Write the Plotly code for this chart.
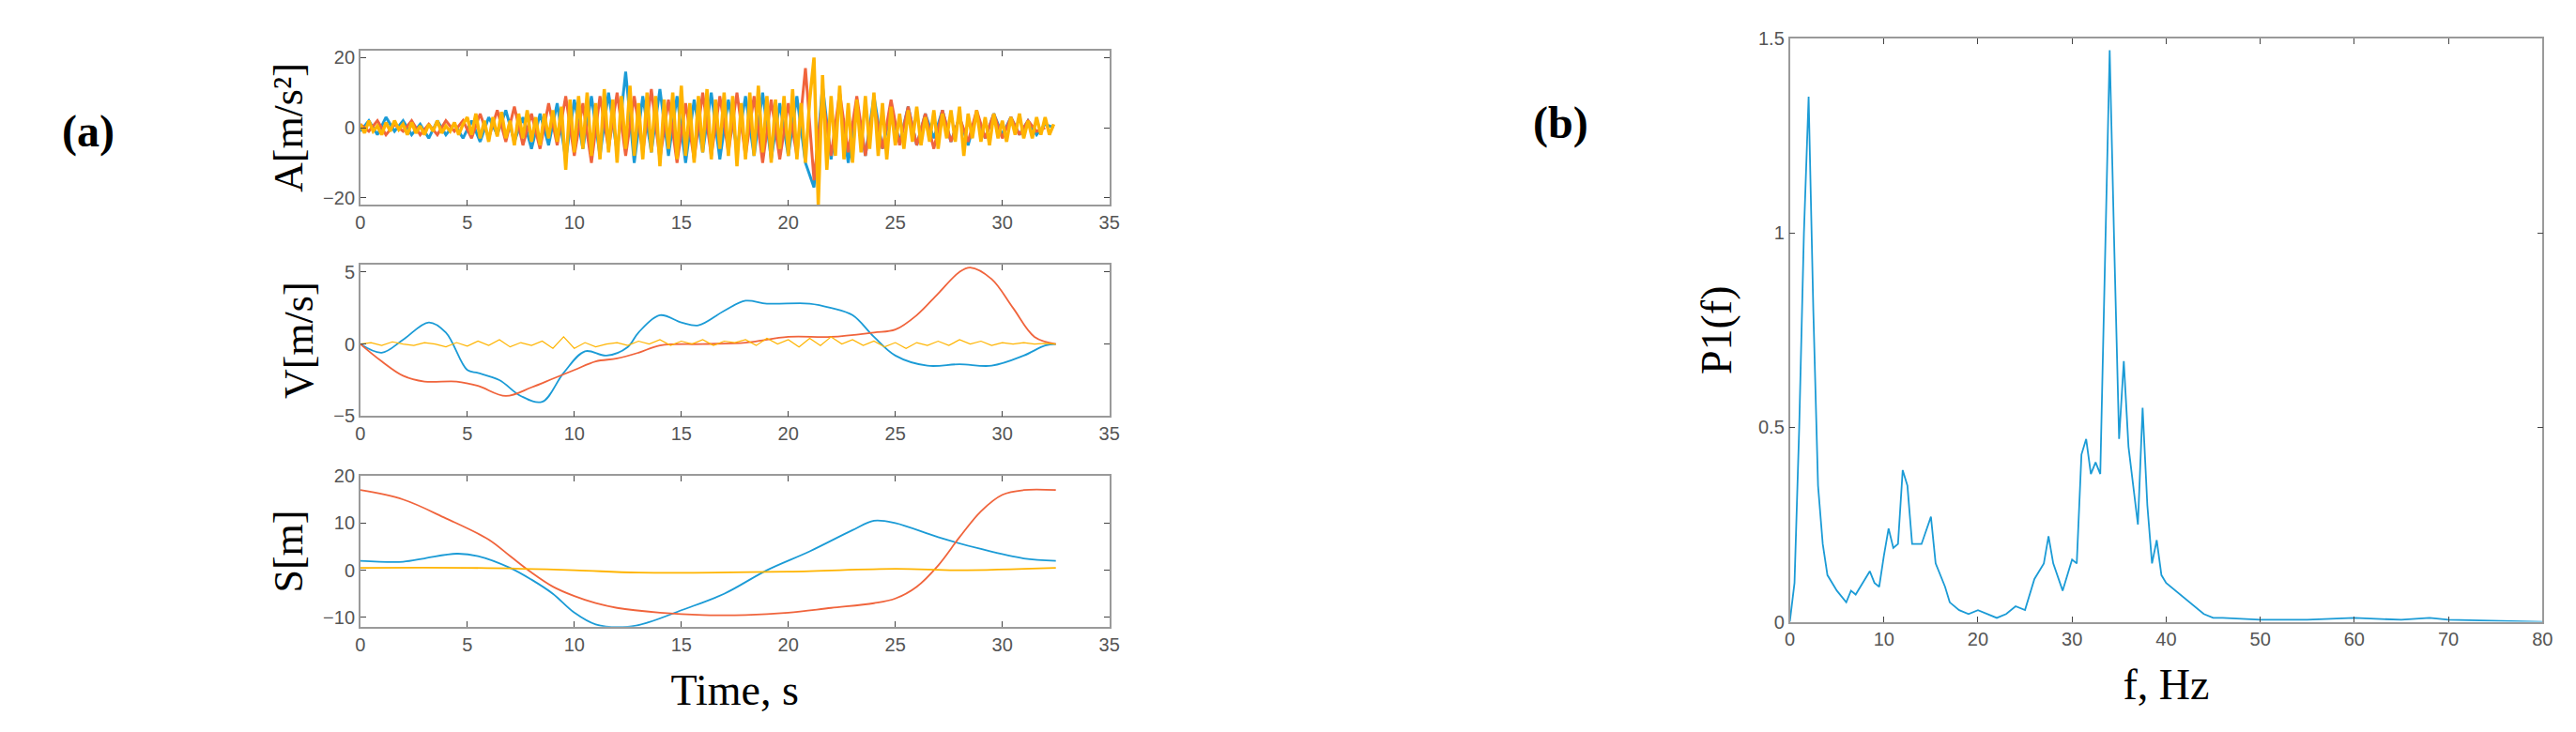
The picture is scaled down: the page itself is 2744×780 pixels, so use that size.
import numpy as np
import plotly.graph_objects as go

# ---- Data ----
dt_y = 0.2
acc_yellow = [1,-1.5,2,-1,0.5,-2,1.5,-1,2,-0.5,1,-2,1.5,-1.5,0.5,-2,1,-1,2,-1.5,0.5,-1,1.5,-2,1,
              3,-2,4,-3,2,-4,3,-2.5,4.5,-3,2,-5,4,-3,5,-4,3,-5,4,-3,5,-4,6,
              -12,8,-7,9,-6,10,-8,7,-9,11,-7,8,-10,9,-6,12,-8,7,-9,10,-7,9,-11,8,-6,10,-9,12,-8,7,-10,9,-7,11,-9,8,-6,10,-8,9,-11,7,-9,10,-8,12,-7,9,-10,8,-6,9,-8,11,-9,7,-10,8,
              20,-22,15,-12,
              9,-8,12,-9,7,-10,8,-7,9,-6,10,-8,7,-9,6,
              -5,4,-6,5,-4,6,-5,3,-4,5,-6,4,-3,5,-4,6,-8,4,-3,5,-4,3,-5,4,-3,2,-4,3,-2,4,-3,2,-3,3,-2,3,-2,1]
dt_b = 0.4
acc_blue = [-1,2,-2,3,-1,2,-2,1,-3,2,-2,1,-3,2,-4,3,-2,5,-4,3,-6,4,-5,7,
            -9,8,-6,9,-8,10,-7,16,-10,9,-7,11,-8,9,-10,8,-7,10,-9,8,-6,9,-8,10,-9,7,-8,9,-10,
            -17,12,-9,8,-10,7,-8,9,-6,5,-4,6,-5,4,-3,5,-4,3,-5,4,-3,4,-2,3,-2,2,-2,1,0]
acc_orange = [1,-1,2,-2,1,-1,2,-2,1,-2,2,-1,2,-3,4,-3,5,-4,6,-5,4,-6,7,-5,
              9,-8,7,-10,9,-6,10,-8,9,-7,11,-9,8,-10,7,-9,10,-8,9,-7,10,-8,9,-10,8,-9,7,-8,17,
              -15,9,-8,10,-7,9,-8,7,-6,8,-5,6,-5,4,-6,5,-4,3,-4,5,-3,4,-3,3,-2,2,-1,0]

v_blue_t = [0,1,2,3.2,4,5,5.5,6.5,7.5,8.5,9.5,10.5,11.5,12.5,13,14,15,15.8,17,18,19,21,22,23,24,25,26.5,28,29.5,31,32,32.5]
v_blue = [0,-0.6,0.3,1.5,0.8,-1.8,-2,-2.5,-3.6,-4,-2,-0.5,-0.8,-0.2,0.8,2,1.5,1.3,2.3,3,2.8,2.8,2.5,2,0.5,-0.8,-1.5,-1.4,-1.5,-0.8,-0.1,0]
v_orange_t = [0,1,2,3,4.5,5.5,6.8,8,9,10,11,12,13,14,16,18,20,22,24,25,26,27,28,28.5,29.5,30.5,31.5,32.5]
v_orange = [0,-1.2,-2.2,-2.6,-2.6,-2.9,-3.6,-3,-2.4,-1.8,-1.2,-1,-0.6,-0.1,0,0.1,0.5,0.5,0.8,1,2,3.5,5,5.3,4.5,2.5,0.5,0]
dt_vy = 0.5
v_yellow = [0,0.1,-0.1,0.15,0,-0.1,0.1,0,-0.2,0.1,-0.15,0.2,-0.1,0.3,-0.2,0.1,-0.1,0.2,-0.3,0.5,-0.3,0.1,-0.2,0,0.1,-0.1,0.2,0,0.3,-0.1,0.2,0,
            0.3,-0.1,0.2,0.1,0.3,-0.1,0.4,0,0.3,-0.2,0.4,-0.1,0.5,0,0.3,-0.1,0.2,-0.2,0.1,-0.3,0.1,-0.1,0.2,-0.1,0.3,0,0.2,-0.1,0.1,0,0.1,0,0.05,0]

s_blue_t = [0,2,3,4.5,5.5,7,8,9,10,11,12.5,13.5,15,17,19,21,23,24,25,27,29,31,32.5]
s_blue = [2,1.8,2.5,3.5,3,0.5,-2,-5,-9,-11.5,-12,-11,-8.5,-5,0,4,8.5,10.5,10,7,4.5,2.5,2]
s_orange_t = [0,2,4,6,7,8,9,10,11,12,14,16,18,20,22,24,25,26,27,28,29,30,31,32.5]
s_orange = [17,15,11,6.5,3,-0.5,-3.5,-5.5,-7,-8,-9,-9.5,-9.5,-9,-8,-7,-6,-3.5,1,7,12.5,16,17,17]
s_yellow_t = [0,5,10,13,20,25,28,32.5]
s_yellow = [0.5,0.5,0,-0.5,-0.3,0.3,0,0.5]

f_hz = [0,0.5,1,1.5,2,2.5,3,3.5,4,5,6,6.5,7,8,8.5,9,9.5,10,10.5,11,11.5,12,12.5,13,14,15,15.5,16.5,17,18,19,20,21,22,23,24,25,26,27,27.5,28,29,30,30.5,31,31.5,32,32.5,33,33.5,34,34.5,35,35.5,36,37,37.5,38,38.5,39,39.5,40,41,42,43,44,45,46,50,55,60,65,68,70,80]
p1 = [0,0.1,0.5,1.0,1.35,0.8,0.35,0.2,0.12,0.08,0.05,0.08,0.07,0.11,0.13,0.1,0.09,0.17,0.24,0.19,0.2,0.39,0.35,0.2,0.2,0.27,0.15,0.09,0.05,0.03,0.02,0.03,0.02,0.01,0.02,0.04,0.03,0.11,0.15,0.22,0.15,0.08,0.16,0.15,0.43,0.47,0.38,0.41,0.38,0.9,1.47,0.95,0.47,0.67,0.45,0.25,0.55,0.3,0.15,0.21,0.12,0.1,0.08,0.06,0.04,0.02,0.01,0.01,0.005,0.005,0.01,0.005,0.01,0.005,0]

BLUE = "#1b9bd6"; ORANGE = "#f0643c"; YELLOW = "#ffb400"

fig = go.Figure()
def t_of(arr, dt):
    return np.arange(len(arr)) * dt

def line(x, y, color, width, xa, ya, shape="linear"):
    fig.add_trace(go.Scatter(x=x, y=y, mode="lines", line=dict(color=color, width=width, shape=shape),
                             xaxis=xa, yaxis=ya, hoverinfo="skip"))

line(t_of(acc_blue, dt_b), acc_blue, BLUE, 3, "x", "y")
line(t_of(acc_orange, dt_b), acc_orange, ORANGE, 3, "x", "y")
line(t_of(acc_yellow, dt_y), acc_yellow, YELLOW, 3.5, "x", "y")
line(v_blue_t, v_blue, BLUE, 1.8, "x2", "y2", "spline")
line(v_orange_t, v_orange, ORANGE, 1.8, "x2", "y2", "spline")
line(t_of(v_yellow, dt_vy), v_yellow, YELLOW, 1.2, "x2", "y2")
line(s_blue_t, s_blue, BLUE, 1.8, "x3", "y3", "spline")
line(s_orange_t, s_orange, ORANGE, 1.8, "x3", "y3", "spline")
line(s_yellow_t, s_yellow, YELLOW, 1.8, "x3", "y3", "spline")
line(f_hz, p1, BLUE, 1.8, "x4", "y4")

tickf = dict(family="Liberation Sans Narrow, Liberation Sans", size=20, color="#555")
titf = dict(family="Liberation Serif", size=44, color="black")
ax = dict(showline=True, mirror="ticks", linecolor="#9a9a9a", linewidth=1.5, ticks="inside",
          ticklen=6, tickcolor="#444", showgrid=False, zeroline=False, tickfont=tickf)

xa = dict(ax, range=[0, 35], dtick=5, domain=[0.1356, 0.4282])
fig.update_layout(
    width=2744, height=780, margin=dict(l=0, r=0, t=0, b=0),
    paper_bgcolor="white", plot_bgcolor="white", showlegend=False,
    xaxis=dict(xa, anchor="y"),
    yaxis=dict(ax, range=[-22, 22], tickvals=[-20, 0, 20], domain=[0.737, 0.954], anchor="x",
               title=dict(text="A[m/s²]", font=titf, standoff=8)),
    xaxis2=dict(xa, anchor="y2"),
    yaxis2=dict(ax, range=[-5, 5.5], tickvals=[-5, 0, 5], domain=[0.440, 0.653], anchor="x2",
                title=dict(text="V[m/s]", font=titf, standoff=8)),
    xaxis3=dict(xa, anchor="y3", title=dict(text="Time, s", font=dict(titf, size=46), standoff=22)),
    yaxis3=dict(ax, range=[-12, 20], tickvals=[-10, 0, 10, 20], domain=[0.144, 0.356], anchor="x3",
                title=dict(text="S[m]", font=titf, standoff=8)),
    xaxis4=dict(ax, range=[0, 80], dtick=10, domain=[0.694, 0.988], anchor="y4",
                title=dict(text="f, Hz", font=dict(titf, size=46), standoff=22)),
    yaxis4=dict(ax, range=[0, 1.5], tickvals=[0, 0.5, 1, 1.5], domain=[0.151, 0.971], anchor="x4",
                title=dict(text="P1(f)", font=dict(titf, size=46), standoff=14)),
    annotations=[
        dict(text="(a)", x=50/2744, y=1-95/780, xref="paper", yref="paper", showarrow=False,
             font=dict(family="Liberation Serif", size=48, color="black", weight="bold")),
        dict(text="(b)", x=1659/2744, y=1-85/780, xref="paper", yref="paper", showarrow=False,
             font=dict(family="Liberation Serif", size=48, color="black", weight="bold")),
    ],
)
fig.write_html("out.html")
